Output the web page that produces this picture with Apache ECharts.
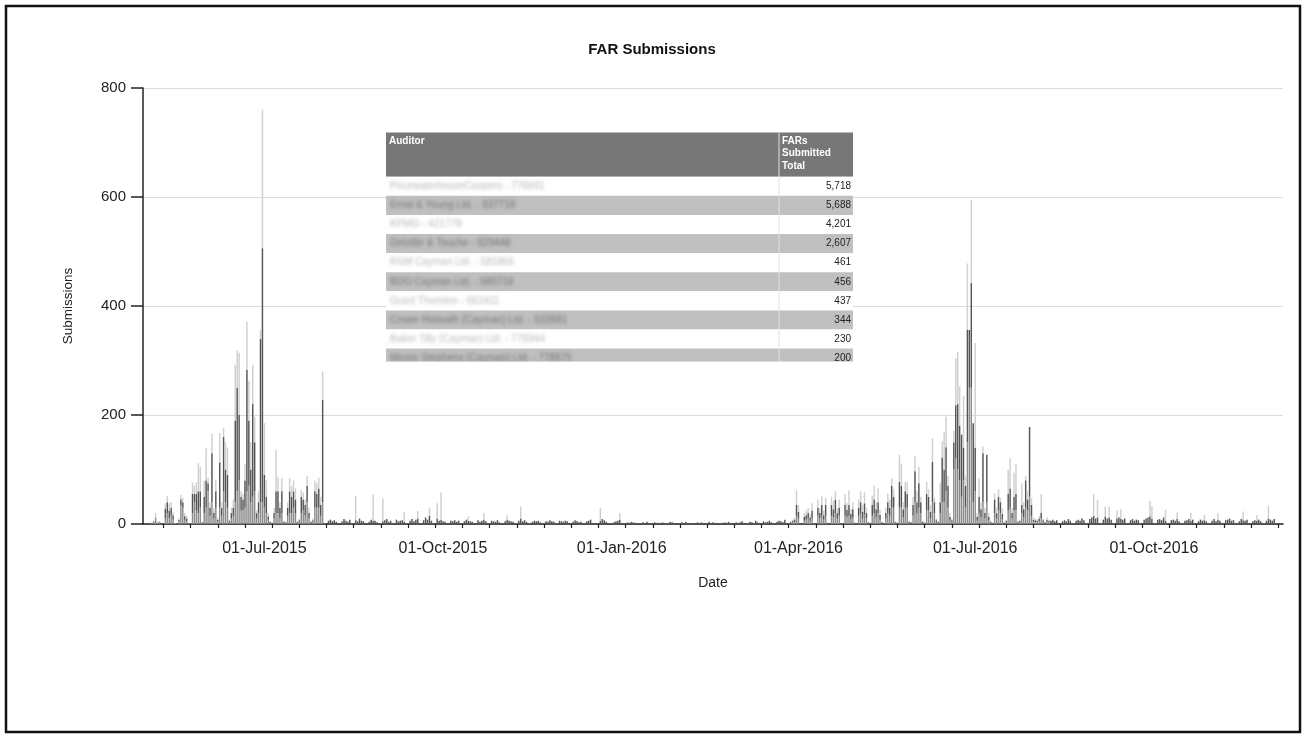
<!DOCTYPE html>
<html>
<head>
<meta charset="utf-8">
<title>FAR Submissions</title>
<script src="https://cdn.jsdelivr.net/npm/echarts@6/dist/echarts.min.js"></script>
<style>
html, body { margin: 0; padding: 0; background: #fff; }
#chart { width: 1304px; height: 735px; }
</style>
</head>
<body>
<div id="chart"></div>
<script>
// axis range (daily categories)
const firstDay = '2015-04-30';
const lastDay = '2016-12-06';
const monthNames = ['Jan','Feb','Mar','Apr','May','Jun','Jul','Aug','Sep','Oct','Nov','Dec'];
const yTicks = [0, 200, 400, 600, 800];

// 2015 filing season, daily from 2015-05-01 (bottom / middle / top of each stack)
const season15Start = '2015-05-01';
const lower15 = [0,0,0,2,3,12,2,3,0,0,
    10,20,10,15,8,1,0,5,35,30,
    8,5,0,1,20,40,25,20,30,2,
    20,30,60,15,40,10,30,4,30,15,
    60,40,30,3,10,15,40,60,80,25,
    25,30,60,70,40,50,60,10,20,40,
    40,30,20,8,2,1,10,20,20,10,
    20,2,2,15,20,20,30,20,2,4,
    20,25,15,40,10,2,4,30,30,30,
    15,40];
const middle15 = [0,0,0,0,2,0,1,1,0,0,
    18,20,15,15,8,0,0,3,10,10,
    6,5,0,0,35,15,30,40,30,1,
    30,50,15,15,90,10,30,4,83,15,
    100,60,60,3,10,15,150,190,120,25,
    20,50,223,120,60,170,90,10,20,300,
    466,60,30,6,2,1,10,40,40,20,
    40,2,1,15,40,30,30,25,2,3,
    30,20,20,30,10,2,3,30,25,35,
    20,188];
const upper15 = [0,0,0,1,1,8,1,1,0,0,
    10,11,13,10,6,1,0,2,8,8,
    6,5,0,1,21,15,21,52,45,1,
    30,59,10,10,36,10,21,4,54,10,
    16,50,50,2,10,15,102,69,114,10,
    10,30,88,73,50,72,47,5,20,16,
    254,95,30,6,1,1,10,76,26,10,
    24,2,1,10,24,20,20,20,1,3,
    12,13,10,18,10,1,3,20,20,20,
    15,52];

// quiet months, daily from 2015-08-01 (weeks Sat..Fri)
const quietStart = '2015-08-01';
const quietBase = [
    0,0,6,8,5,7,4,  0,0,5,9,6,4,8,  0,1,7,5,10,6,5,  0,0,4,8,6,6,3,
    0,0,5,7,9,4,6,  0,0,8,5,6,7,4,  0,0,6,9,5,8,10,  0,0,7,12,8,15,6,
    1,0,10,6,8,5,4, 0,0,6,5,7,4,6,  0,0,5,8,6,5,4,   0,0,7,4,6,8,5,
    0,0,6,5,4,7,3,  0,0,5,8,6,5,4,  0,0,6,10,5,7,4,  0,0,4,6,5,6,3,
    0,0,5,4,7,5,4,  0,0,6,5,4,6,5,  0,0,4,7,5,3,4,   0,0,5,6,8,2,1,
    0,0,6,9,7,4,1,  0,0,3,5,6,8,1,  0,0,3,2,4,3,2,   0,0,2,3,1,4,2,
    0,0,3,2,2,1,3,  0,0,2,4,3,2,1,  0,0,3,2,4,2,2,   0,0,2,3,1,3,2,
    0,0,4,2,3,2,1,  0,0,2,3,2,4,2,  0,0,3,2,3,5,2,   0,0,4,3,2,6,3,
    0,0,5,3,4,6,3,  0,0,4,6,5,3,8,  0,0];
const quietSpikes = [['2015-08-17',45],['2015-08-26',48],['2015-08-31',42],['2015-09-11',18],
    ['2015-09-18',14],['2015-09-24',15],['2015-09-28',28],['2015-09-30',50],['2015-10-14',8],
    ['2015-10-22',12],['2015-11-03',8],['2015-11-10',22],['2015-12-21',24],['2015-12-31',12]];

// 2016 filing season, daily from 2016-03-28 (weeks Mon..Sun)
const season16Start = '2016-03-28';
const lower16 = [2,3,4,15,10,0,0,
    6,8,10,6,10,1,0,
    15,10,15,8,15,1,0,
    15,12,20,10,15,1,0,
    15,12,15,9,12,1,0,
    15,20,10,18,10,1,1,
    15,20,12,20,8,1,0,
    10,20,15,30,30,2,1,
    30,30,12,30,30,2,1,
    15,40,20,30,20,2,1,
    25,25,10,40,20,3,2,
    20,40,40,60,30,6,3,
    100,120,100,80,50,80,30,
    150,250,250,40,60,6,20,
    12,40,10,40,6,2,1,
    20,10,25,20,9,1,3,
    25,30,10,25,25,2,3,
    20,12,30,25,50,15,4,
    3,3,5,10,3,1,4,
    3];
const middle16 = [2,3,4,20,12,0,0,
    7,8,10,6,15,1,0,
    15,10,20,8,20,1,1,
    20,15,25,10,15,1,0,
    20,14,20,10,15,1,0,
    15,20,12,20,10,2,1,
    20,25,15,20,9,2,0,
    10,20,15,40,20,2,1,
    47,40,15,30,25,2,2,
    20,57,20,45,20,2,1,
    30,25,12,74,20,4,2,
    20,82,60,81,40,7,4,
    50,98,120,100,114,60,40,
    206,106,192,145,80,7,30,
    15,90,10,87,7,2,1,
    25,10,25,20,10,2,3,
    30,35,10,25,30,2,3,
    15,15,50,20,128,20,4,
    4,3,5,10,4,2,4,
    3];
const upper16 = [1,2,4,27,13,0,0,
    7,9,10,6,13,0,0,
    15,10,16,9,13,1,0,
    15,15,15,10,15,0,0,
    20,12,27,9,13,1,0,
    15,20,13,20,10,1,0,
    17,25,13,25,9,1,0,
    10,16,15,14,14,1,1,
    50,41,13,17,22,2,1,
    15,28,20,30,10,2,1,
    22,14,13,43,8,3,1,
    35,30,69,56,18,7,3,
    21,86,96,73,0,95,17,
    122,0,153,0,192,7,34,
    13,12,10,0,7,1,1,
    11,10,14,8,10,1,2,
    44,55,10,44,55,1,2,
    40,13,8,15,0,13,4,
    3,2,5,35,3,1,4,
    2];

// tail of 2016, daily from 2016-08-09 (weeks Tue..Mon)
const tailStart = '2016-08-09';
const tailBase = [
    6,8,5,7,0,0,5,   7,5,9,6,0,0,6,   8,6,10,7,1,0,9,  12,15,10,12,0,0,8,
    14,10,12,8,0,0,10, 12,9,8,10,0,0,7, 9,6,8,7,0,0,8,  10,12,14,9,1,0,8,
    9,7,12,6,0,0,7,  8,6,9,5,0,0,6,   7,9,6,8,0,0,5,   8,6,7,5,0,0,6,
    9,5,8,6,0,0,7,   8,10,6,7,0,0,5,  9,7,6,8,0,0,5,   7,6,8,5,0,0,6,
    10,8,6,9,0,0,0,  0,0];
const tailSpikes = [['2016-08-31',40],['2016-09-02',32],['2016-09-06',18],['2016-09-08',20],
    ['2016-09-12',15],['2016-09-14',18],['2016-09-29',28],['2016-09-30',24],['2016-10-07',20],
    ['2016-10-13',12],['2016-10-20',14],['2016-10-27',10],['2016-11-03',12],['2016-11-16',16],
    ['2016-11-23',10],['2016-11-29',23]];

// overlay table
const auditors = ['PricewaterhouseCoopers - 776691', 'Ernst & Young Ltd. - 937718', 'KPMG - 421778',
    'Deloitte & Touche - 929448', 'RSM Cayman Ltd. - 581866', 'BDO Cayman Ltd. - 580718',
    'Grant Thornton - 663411', 'Crowe Horwath (Cayman) Ltd. - 933981',
    'Baker Tilly (Cayman) Ltd. - 776944', 'Moore Stephens (Cayman) Ltd. - 778875'];
const farTotals = [5718, 5688, 4201, 2607, 461, 456, 437, 344, 230, 200];

// build daily categories
function dayKey(t) { return new Date(t).toISOString().slice(0, 10); }
let days = [];
for (let t = Date.parse(firstDay); t <= Date.parse(lastDay); t += 86400000) days.push(dayKey(t));
let dayIndex = {};
days.forEach((d, i) => { dayIndex[d] = i; });

let lower = days.map(() => 0), middle = days.map(() => 0), upper = days.map(() => 0);
function put(target, start, vals) {
    let i0 = dayIndex[start];
    vals.forEach((v, k) => { if (i0 + k < target.length) target[i0 + k] += v; });
}
function addSpikes(target, list) {
    list.forEach((p) => { target[dayIndex[p[0]]] += p[1]; });
}
put(lower, season15Start, lower15);
put(middle, season15Start, middle15);
put(upper, season15Start, upper15);
put(middle, quietStart, quietBase);
addSpikes(upper, quietSpikes);
put(lower, season16Start, lower16);
put(middle, season16Start, middle16);
put(upper, season16Start, upper16);
put(middle, tailStart, tailBase);
addSpikes(upper, tailSpikes);

let minorFrom = dayIndex['2015-05-10'];
function isQuarter(i, v) {
    return v.slice(8) === '01' && ['01', '04', '07', '10'].indexOf(v.slice(5, 7)) >= 0;
}
function isFortnight(i) {
    return i >= minorFrom && (i - minorFrom) % 14 === 0;
}
function fmtDay(v) {
    let p = v.split('-');
    return p[2] + '-' + monthNames[+p[1] - 1] + '-' + p[0];
}

// table graphic
const font = '"Liberation Sans", Arial, sans-serif';
let tL = 386, tR = 853, colX = 779, headTop = 132.5, headH = 44.2, rowH = 19.1, tBottom = 361.7;
let els = [];
els.push({type: 'rect', z: 100, shape: {x: tL, y: headTop, width: tR - tL, height: headH}, style: {fill: '#777'}});
els.push({type: 'text', z: 101, x: 389, y: 141, style: {text: 'Auditor', fill: '#fff', font: 'bold 10px ' + font,
    textVerticalAlign: 'middle', verticalAlign: 'middle'}});
['FARs', 'Submitted', 'Total'].forEach((s, k) => {
    els.push({type: 'text', z: 101, x: 782, y: 141 + k * 12.7, style: {text: s, fill: '#fff', font: 'bold 10px ' + font,
        textVerticalAlign: 'middle', verticalAlign: 'middle'}});
});
auditors.forEach((name, i) => {
    let top = headTop + headH + i * rowH;
    let h = Math.min(rowH, tBottom - top);
    let grey = i % 2 === 1;
    els.push({type: 'rect', z: 100, shape: {x: tL, y: top, width: tR - tL, height: h}, style: {fill: grey ? '#c0c0c0' : '#fff'}});
    // names are blurred in the original: draw only the blurred shadow of the text
    els.push({type: 'text', z: 101, x: 390 - 1000, y: top + rowH / 2, style: {text: name, font: '10px ' + font,
        fill: '#000',
        textShadowBlur: 3.5, textShadowColor: grey ? 'rgba(90,90,90,0.75)' : 'rgba(140,140,140,0.65)',
        textShadowOffsetX: 1000, textShadowOffsetY: 0,
        textVerticalAlign: 'middle', verticalAlign: 'middle'}});
    els.push({type: 'text', z: 101, x: 851, y: top + rowH / 2, style: {text: farTotals[i].toLocaleString('en-US'),
        font: '10px ' + font, fill: '#222', textAlign: 'right', align: 'right',
        textVerticalAlign: 'middle', verticalAlign: 'middle'}});
});
els.push({type: 'rect', z: 102, shape: {x: tL, y: tBottom, width: tR - tL, height: 8}, style: {fill: '#fff'}});
els.push({type: 'line', z: 101, shape: {x1: colX, y1: headTop, x2: colX, y2: tBottom}, style: {stroke: '#e2e2e2', lineWidth: 1}});
// frame round the picture
els.push({type: 'rect', z: 120, shape: {x: 6, y: 6, width: 1294, height: 726}, style: {fill: 'none', stroke: '#111', lineWidth: 2.5}});

let chart = echarts.init(document.getElementById('chart'));
chart.setOption({
    animation: false,
    backgroundColor: '#fff',
    title: {
        text: 'FAR Submissions',
        left: 'center',
        top: 37,
        textStyle: {fontFamily: font, fontSize: 15, fontWeight: 'bold', color: '#111'}
    },
    grid: {left: 143, right: 21, top: 88, bottom: 211, containLabel: false, outerBoundsMode: 'none'},
    xAxis: [
        {
            type: 'category',
            position: 'bottom',
            data: days,
            name: 'Date',
            nameLocation: 'middle',
            nameGap: 52,
            nameTextStyle: {fontFamily: font, fontSize: 14, color: '#222'},
            axisLine: {lineStyle: {color: '#222', width: 1.5}},
            axisTick: {interval: isQuarter, alignWithLabel: true, length: 12, lineStyle: {color: '#222', width: 1.5}},
            axisLabel: {interval: isQuarter, formatter: fmtDay, margin: 17, fontFamily: font, fontSize: 16, color: '#222'},
            splitLine: {show: false}
        },
        {
            type: 'category',
            position: 'bottom',
            data: days,
            axisLine: {show: true, onZero: false, lineStyle: {color: '#222', opacity: 0}},
            axisTick: {show: true, interval: isFortnight, alignWithLabel: true, length: 4,
                lineStyle: {color: '#222', width: 1.2}},
            axisLabel: {show: false, interval: isFortnight},
            splitLine: {show: false}
        }
    ],
    yAxis: {
        type: 'value',
        min: yTicks[0],
        max: yTicks[yTicks.length - 1],
        interval: yTicks[1] - yTicks[0],
        name: 'Submissions',
        nameLocation: 'middle',
        nameRotate: 90,
        nameGap: 68,
        nameTextStyle: {fontFamily: font, fontSize: 13.5, color: '#222'},
        axisLine: {show: true, lineStyle: {color: '#222', width: 1.5}},
        axisTick: {show: true, length: 12, lineStyle: {color: '#222', width: 1.5}},
        axisLabel: {margin: 17, fontFamily: font, fontSize: 15, color: '#222'},
        splitLine: {lineStyle: {color: '#dcdcdc', width: 1}}
    },
    series: [
        {name: 'lower', type: 'bar', stack: 'far', data: lower, barWidth: '75%', itemStyle: {color: '#8c8c8c'}},
        {name: 'middle', type: 'bar', stack: 'far', data: middle, barWidth: '75%', itemStyle: {color: '#545454'}},
        {name: 'upper', type: 'bar', stack: 'far', data: upper, barWidth: '75%', itemStyle: {color: '#cfcfcf'}},
        {name: 'ticks', type: 'bar', xAxisIndex: 1, data: [], silent: true}
    ],
    graphic: {elements: els}
});
</script>
</body>
</html>
